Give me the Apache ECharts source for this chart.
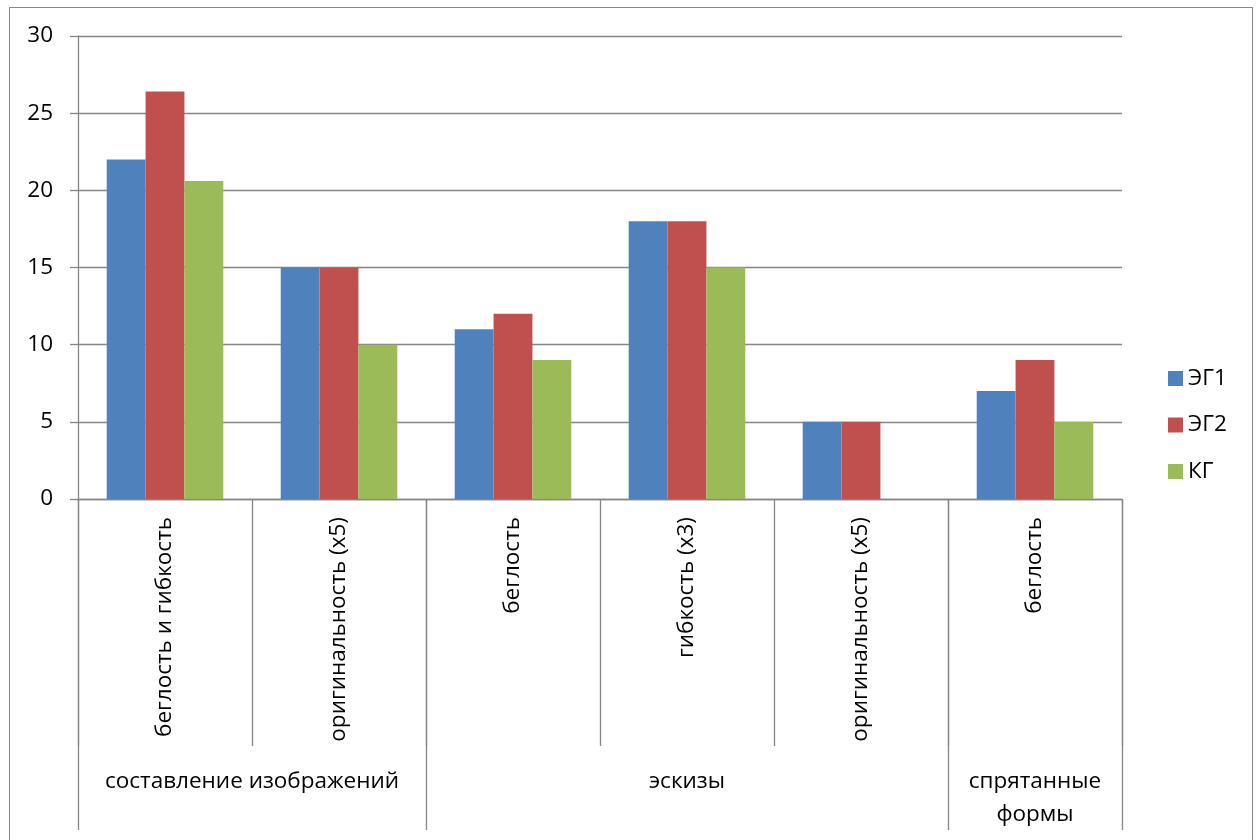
<!DOCTYPE html>
<html>
<head>
<meta charset="utf-8">
<script src="https://cdn.jsdelivr.net/npm/echarts@6/dist/echarts.min.js"></script>
<style>
html,body{margin:0;padding:0;background:#fff;}
#wrap{position:relative;width:1257px;height:840px;overflow:hidden;}
#chart{position:absolute;left:0;top:0;width:1257px;height:840px;}
#frame{position:absolute;left:9px;top:7px;width:1242px;height:900px;border:1px solid #8a8a8a;pointer-events:none;}
</style>
</head>
<body>
<div id="wrap"><div id="chart"></div><div id="frame"></div></div>
<script>
const categories = ['беглость и гибкость', 'оригинальность (х5)', 'беглость', 'гибкость (х3)', 'оригинальность (х5)', 'беглость'];
const groups = ['составление изображений', 'эскизы', 'спрятанные\nформы'];
const groupSpans = [2, 3, 1];
const seriesNames = ['ЭГ1', 'ЭГ2', 'КГ'];
const eg1 = [22, 15, 11, 18, 5, 7];
const eg2 = [26.4, 15, 12, 18, 5, 9];
const kg = [20.6, 10, 9, 15, 0, 5];
const yTicks = [0, 5, 10, 15, 20, 25, 30];

const colors = ['#4F81BD', '#C0504D', '#9BBB59'];
const FONT = 'Open Sans';
const FS = 22.5;
const gridCol = '#868686';

const bounds = [0];
groupSpans.forEach(s => bounds.push(bounds[bounds.length - 1] + s));
const centers = groups.map((g, i) => (bounds[i] + bounds[i + 1]) / 2);

const chart = echarts.init(document.getElementById('chart'), null, {renderer: 'canvas'});
chart.setOption({
  animation: false,
  color: colors,
  textStyle: {fontFamily: FONT, color: '#000'},
  grid: {left: 78, right: 135, top: 36, bottom: 341, containLabel: false},
  legend: {
    orient: 'vertical', left: 1163, top: 362,
    itemWidth: 15, itemHeight: 15, itemGap: 23.5,
    icon: 'rect',
    textStyle: {fontFamily: FONT, fontSize: FS, color: '#000'},
    data: seriesNames
  },
  xAxis: [{
    type: 'category',
    data: categories,
    axisLine: {lineStyle: {color: gridCol, width: 1.3}},
    axisTick: {show: true, length: 247, lineStyle: {color: gridCol, width: 1.3}},
    axisLabel: {interval: 0, rotate: 90, margin: 18, fontFamily: FONT, fontSize: FS, color: '#000'}
  }, {
    type: 'value',
    position: 'bottom',
    min: bounds[0], max: bounds[bounds.length - 1],
    axisLine: {show: false},
    splitLine: {show: false},
    axisTick: {show: true, customValues: bounds, length: 331, lineStyle: {color: gridCol, width: 1.3}},
    axisLabel: {
      customValues: centers,
      margin: 266, fontFamily: FONT, fontSize: FS, color: '#000', lineHeight: 33,
      formatter: v => { const i = centers.findIndex(c => Math.abs(c - v) < 1e-6); return i >= 0 ? groups[i] : ''; }
    }
  }],
  yAxis: {
    type: 'value',
    min: yTicks[0], max: yTicks[yTicks.length - 1], interval: yTicks[1] - yTicks[0],
    axisLine: {show: true, lineStyle: {color: gridCol, width: 1.3}},
    axisTick: {show: true, length: 8, lineStyle: {color: gridCol, width: 1.3}},
    splitLine: {lineStyle: {color: gridCol, width: 1.3}},
    axisLabel: {margin: 25, fontFamily: FONT, fontSize: FS, color: '#000'}
  },
  series: [
    {name: seriesNames[0], type: 'bar', data: eg1, barGap: '0%', barCategoryGap: '33%'},
    {name: seriesNames[1], type: 'bar', data: eg2, barGap: '0%', barCategoryGap: '33%'},
    {name: seriesNames[2], type: 'bar', data: kg, barGap: '0%', barCategoryGap: '33%'}
  ]
});
</script>
</body>
</html>
